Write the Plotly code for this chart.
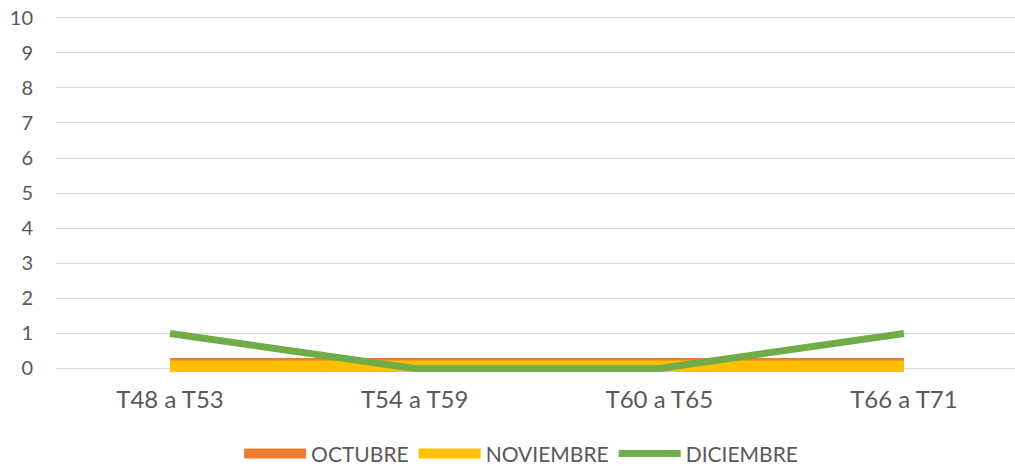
import plotly.graph_objects as go

categories = ["T48 a T53", "T54 a T59", "T60 a T65", "T66 a T71"]
octubre = [0, 0, 0, 0]
noviembre = [0, 0, 0, 0]
diciembre = [1, 0, 0, 1]
y_ticks = list(range(0, 11))

FONT = "Lato"
TXT = "#595959"

fig = go.Figure()
fig.add_trace(go.Scatter(x=categories, y=octubre, name="OCTUBRE", mode="lines",
                         line=dict(color="#ED7D31", width=21), hoverinfo="skip"))
fig.add_trace(go.Scatter(x=categories, y=noviembre, name="NOVIEMBRE", mode="lines",
                         line=dict(color="#FFC000", width=16), hoverinfo="skip"))
fig.add_trace(go.Scatter(x=categories, y=diciembre, name="DICIEMBRE", mode="lines",
                         line=dict(color="#70AD47", width=7), hoverinfo="skip"))

fig.update_layout(
    width=1015, height=466,
    margin=dict(l=56, r=0, t=16, b=93.5, autoexpand=False),
    paper_bgcolor="white", plot_bgcolor="white",
    font=dict(family=FONT, size=21, color=TXT),
    showlegend=True,
    legend=dict(orientation="h", x=0.485, xanchor="center", y=-0.23, yanchor="middle",
                font=dict(family=FONT, size=21, color=TXT), itemwidth=62,
                traceorder="normal"),
    xaxis=dict(type="category", range=[-0.466, 3.454], showgrid=False, zeroline=False,
               showline=False, ticks="", ticklabelstandoff=11, automargin=False,
               tickfont=dict(size=24, color=TXT)),
    yaxis=dict(range=[-0.1, 10.05], tickvals=y_ticks, ticktext=[str(v) for v in y_ticks],
               showgrid=True, gridcolor="#D9D9D9", gridwidth=1.3, zeroline=False,
               showline=False, ticks="", ticklabelstandoff=22, automargin=False,
               ticklabeloverflow="allow",
               tickfont=dict(size=20, color=TXT)),
)

fig.write_html("out.html", config={"displayModeBar": False},
               post_script="document.body.style.margin='0';document.body.style.overflow='hidden';")
